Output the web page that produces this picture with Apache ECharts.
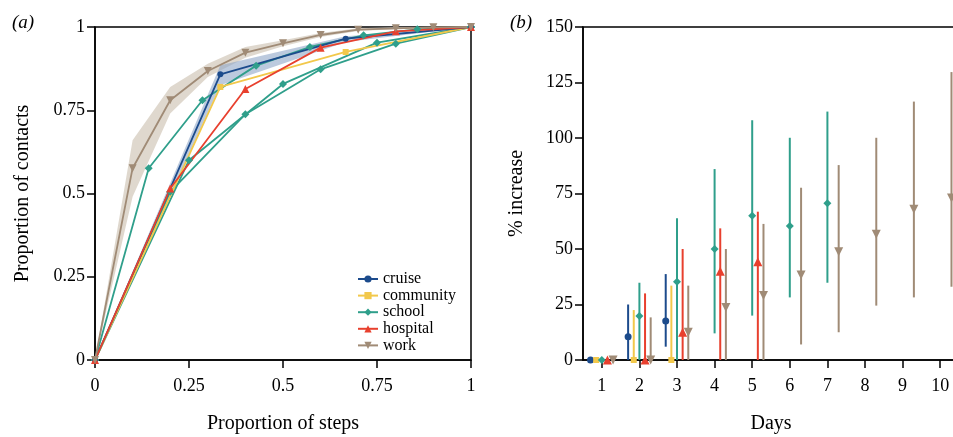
<!DOCTYPE html>
<html><head><meta charset="utf-8">
<script src="https://cdn.jsdelivr.net/npm/echarts@6/dist/echarts.min.js"></script>
<style>html,body{margin:0;padding:0;background:#fff}#c{width:953px;height:437px}</style>
</head><body><div id="c"></div>
<script>
// ---------- Panel (a) data ----------
const workX = [0,0.1,0.2,0.3,0.4,0.5,0.6,0.7,0.8,0.9,1];
const workY = [0,0.576,0.78,0.868,0.923,0.951,0.976,0.992,0.996,0.999,1];
const workLo = [0,0.49,0.74,0.85,0.908,0.942,0.97,0.988,0.993,0.997,1];
const workHi = [0,0.66,0.82,0.89,0.94,0.96,0.982,0.996,0.999,1,1];
const cruiseX = [0,1/3,2/3,1];
const cruiseY = [0,0.858,0.965,1];
const cruiseLo = [0,0.825,0.955,1];
const cruiseHi = [0,0.885,0.972,1];
const communityX = [0,1/3,2/3,1];
const communityY = [0,0.82,0.925,1];
const hospitalX = [0,0.2,0.4,0.6,0.8,1];
const hospitalY = [0,0.515,0.814,0.938,0.987,1];
const school7X = [0,1/7,2/7,3/7,4/7,5/7,6/7,1];
const school7Y = [0,0.576,0.78,0.884,0.94,0.975,0.993,1];
const school5X = [0,0.2,0.4,0.6,0.8,1];
const school5Y = [0,0.505,0.738,0.873,0.95,1];
const school4X = [0,0.25,0.5,0.75,1];
const school4Y = [0,0.6,0.829,0.953,1];

// ---------- Panel (b) data ----------
const dayTicks = [1,2,3,4,5,6,7,8,9,10];
const cruiseDays = [1,2,3];
const cruiseVal = [0,10.5,17.6];
const cruiseBLo = [0,0,6];
const cruiseBHi = [0,25,38.7];
const communityDays = [1,2,3];
const communityVal = [0,0,0];
const communityBLo = [0,0,0];
const communityBHi = [0,22.5,33.5];
const schoolDays = [1,2,3,4,5,6,7];
const schoolVal = [0,19.8,35.3,50,65,60.4,70.6];
const schoolBLo = [0,0,0,12,20,28.2,34.8];
const schoolBHi = [0,34.8,63.8,86,108,100.1,111.9];
const hospitalDays = [1,2,3,4,5];
const hospitalVal = [0,0,12.5,40,44.3];
const hospitalBLo = [0,0,0,0,0];
const hospitalBHi = [0,30,50,59.3,66.8];
const workDays = [1,2,3,4,5,6,7,8,9,10];
const workVal = [0,0,12.5,23.7,29,38.3,48.8,56.6,67.9,73];
const workBLo = [0,0,0,0,0,7,12.5,24.5,28.2,33];
const workBHi = [0,19.2,33.5,50,61.3,77.6,87.8,100.1,116.4,129.7];

const C = {cruise:'#1c4b8c', community:'#f2c84b', school:'#2f9f8b', hospital:'#e8402e', work:'#a08b76'};
const FONT = 'Liberation Serif';
const zip = (xs, ys) => xs.map((x,i)=>[x, ys[i]]);

function bandSeries(xs, lo, hi, color, opacity){
  return {
    type:'custom', xAxisIndex:0, yAxisIndex:0, silent:true, z:1,
    data:[[0,0]], encode:{x:0,y:1},
    renderItem:function(params, api){
      const pts = [];
      for (let i=0;i<xs.length;i++) pts.push(api.coord([xs[i], hi[i]]));
      for (let i=xs.length-1;i>=0;i--) pts.push(api.coord([xs[i], lo[i]]));
      return {type:'polygon', shape:{points:pts}, style:{fill:color, opacity:opacity}};
    }
  };
}
function lineSeries(name, xs, ys, color, symbol, size, rot){
  return {
    name:name, type:'line', xAxisIndex:0, yAxisIndex:0, data:zip(xs,ys),
    symbol:symbol, symbolSize:size, symbolRotate:rot||0, showSymbol:true, clip:false, z:3,
    lineStyle:{color:color, width:1.8}, itemStyle:{color:color}
  };
}
function errSeries(name, days, val, lo, hi, off, color, symbol, size, rot){
  return [{
    name:name+'-bar', type:'custom', xAxisIndex:1, yAxisIndex:1, silent:true, z:2,
    data: days.map((d,i)=>[d+off, lo[i], hi[i]]), encode:{x:0, y:[1,2]},
    renderItem:function(params, api){
      const a = api.coord([api.value(0), api.value(1)]);
      const b = api.coord([api.value(0), api.value(2)]);
      return {type:'line', shape:{x1:a[0],y1:a[1],x2:b[0],y2:b[1]}, style:{stroke:color, lineWidth:2}};
    }
  },{
    name:name+'-pt', type:'scatter', xAxisIndex:1, yAxisIndex:1, z:3, clip:false,
    data: days.map((d,i)=>[d+off, val[i]]), symbol:symbol, symbolSize:size, symbolRotate:rot||0,
    itemStyle:{color:color, opacity:1}
  }];
}
const axisCommon = {
  axisLine:{show:true, onZero:false, lineStyle:{color:'#000', width:1.5}},
  axisTick:{show:true, inside:false, length:8, lineStyle:{color:'#000', width:1.5}},
  splitLine:{show:false},
  axisLabel:{color:'#000', fontFamily:FONT, fontSize:18, margin:10},
  nameTextStyle:{color:'#000', fontFamily:FONT, fontSize:20},
  nameLocation:'middle'
};
const xLabel = Object.assign({}, axisCommon.axisLabel, {margin:17});

const chart = echarts.init(document.getElementById('c'), null, {renderer:'canvas'});
chart.setOption({
  animation:false,
  backgroundColor:'#fff',
  title:[
    {text:'(a)', left:7, top:8, textStyle:{fontFamily:FONT, fontStyle:'italic', fontWeight:'normal', fontSize:19, color:'#000'}},
    {text:'(b)', left:505, top:8, textStyle:{fontFamily:FONT, fontStyle:'italic', fontWeight:'normal', fontSize:19, color:'#000'}}
  ],
  grid:[
    {left:95, right:482, top:27, bottom:77, show:true, borderColor:'#000', borderWidth:1.5, backgroundColor:'transparent', outerBoundsMode:'none'},
    {left:583, width:376, top:27, bottom:77, show:true, borderColor:'#000', borderWidth:1.5, backgroundColor:'transparent', outerBoundsMode:'none'}
  ],
  xAxis:[
    Object.assign({}, axisCommon, {gridIndex:0, type:'value', min:0, max:1, interval:0.25, name:'Proportion of steps', nameGap:54, axisLabel:xLabel}),
    Object.assign({}, axisCommon, {gridIndex:1, type:'value', min:0.5, max:10.5, name:'Days', nameGap:54,
      axisTick:Object.assign({}, axisCommon.axisTick, {customValues:dayTicks}),
      axisLabel:Object.assign({}, xLabel, {customValues:dayTicks})})
  ],
  yAxis:[
    Object.assign({}, axisCommon, {gridIndex:0, type:'value', min:0, max:1, interval:0.25, name:'Proportion of contacts', nameGap:62}),
    Object.assign({}, axisCommon, {gridIndex:1, type:'value', min:0, max:150, interval:25, name:'% increase', nameGap:56})
  ],
  legend:{
    data:['cruise','community','school','hospital','work'],
    orient:'vertical', left:352, top:266, itemWidth:20, itemHeight:9, itemGap:0.6,
    textStyle:{fontFamily:FONT, fontSize:16, color:'#000'}, selectedMode:false
  },
  series:[
    bandSeries(workX, workLo, workHi, '#d9d1c6', 0.85),
    bandSeries(cruiseX, cruiseLo, cruiseHi, '#8fa6c8', 0.6),
    lineSeries('school', school7X, school7Y, C.school, 'diamond', 8),
    lineSeries('school', school5X, school5Y, C.school, 'diamond', 8),
    lineSeries('school', school4X, school4Y, C.school, 'diamond', 8),
    lineSeries('community', communityX, communityY, C.community, 'rect', 6),
    lineSeries('cruise', cruiseX, cruiseY, C.cruise, 'circle', 6),
    lineSeries('hospital', hospitalX, hospitalY, C.hospital, 'triangle', 8),
    lineSeries('work', workX, workY, C.work, 'triangle', 8, 180),
    ...errSeries('cruise', cruiseDays, cruiseVal, cruiseBLo, cruiseBHi, -0.3, C.cruise, 'circle', 7),
    ...errSeries('community', communityDays, communityVal, communityBLo, communityBHi, -0.15, C.community, 'rect', 6),
    ...errSeries('school', schoolDays, schoolVal, schoolBLo, schoolBHi, 0, C.school, 'diamond', 8),
    ...errSeries('hospital', hospitalDays, hospitalVal, hospitalBLo, hospitalBHi, 0.15, C.hospital, 'triangle', 9),
    ...errSeries('work', workDays, workVal, workBLo, workBHi, 0.3, C.work, 'triangle', 9, 180)
  ]
});
</script></body></html>
